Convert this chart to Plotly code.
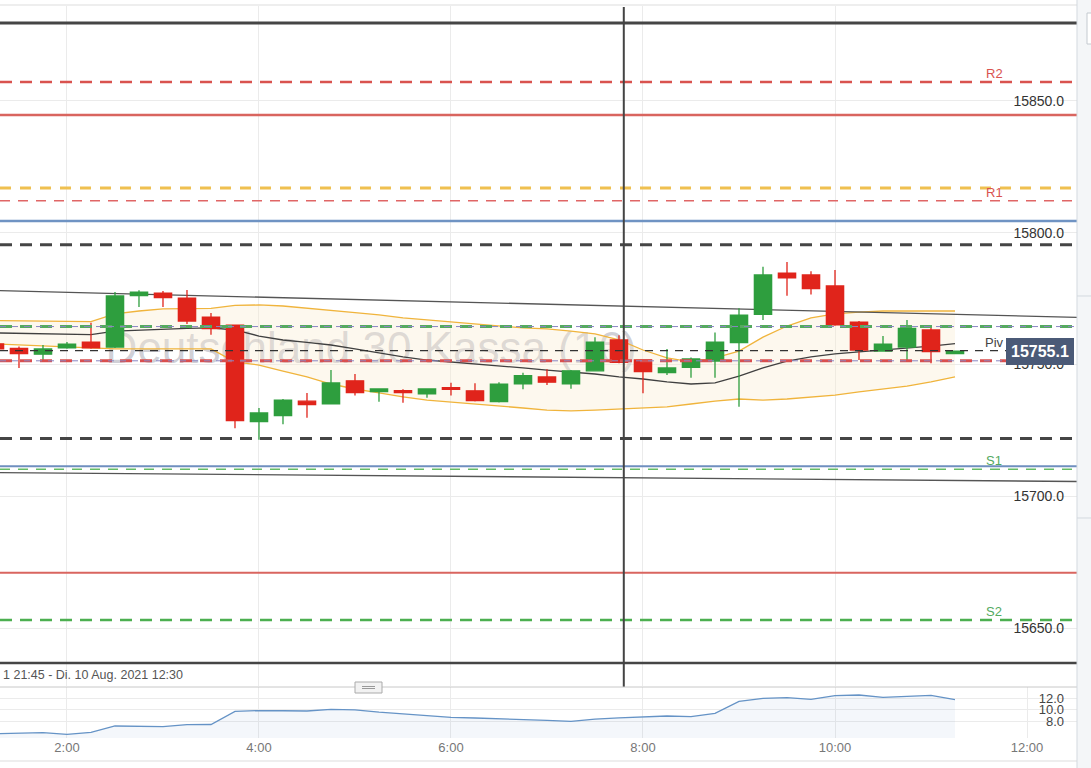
import plotly.graph_objects as go

# 15-minute candles, DAX cash, 10 Aug 2021
times = ['01:15', '01:30', '01:45', '02:00', '02:15', '02:30', '02:45', '03:00', '03:15', '03:30',
         '03:45', '04:00', '04:15', '04:30', '04:45', '05:00', '05:15', '05:30', '05:45', '06:00',
         '06:15', '06:30', '06:45', '07:00', '07:15', '07:30', '07:45', '08:00', '08:15', '08:30',
         '08:45', '09:00', '09:15', '09:30', '09:45', '10:00', '10:15', '10:30', '10:45', '11:00',
         '11:15']
opens = [15757.8, 15756.1, 15753.9, 15756.3, 15758.5, 15756.6, 15776.1, 15777.1, 15775.2, 15768.0,
         15764.9, 15728.3, 15730.6, 15736.1, 15735.1, 15743.8, 15739.7, 15740.1, 15738.9, 15741.2,
         15740.0, 15735.9, 15742.7, 15745.3, 15742.7, 15747.6, 15759.3, 15751.7, 15746.9, 15748.9,
         15751.3, 15758.3, 15769.0, 15784.7, 15784.0, 15779.8, 15766.1, 15755.1, 15756.6, 15763.1,
         15754.1]
highs = [15758.5, 15756.8, 15757.4, 15758.5, 15765.8, 15777.5, 15778.2, 15777.9, 15778.3, 15769.5,
         15765.2, 15733.5, 15736.9, 15739.2, 15747.9, 15746.4, 15741.0, 15740.6, 15741.0, 15743.1,
         15742.9, 15743.3, 15746.9, 15748.2, 15747.9, 15760.3, 15761.1, 15752.0, 15755.9, 15752.7,
         15762.1, 15771.3, 15787.1, 15788.9, 15785.4, 15785.9, 15766.5, 15760.8, 15766.9, 15764.1,
         15755.3]
lows = [15754.8, 15748.7, 15751.7, 15756.0, 15756.0, 15756.3, 15771.8, 15771.8, 15765.4, 15761.3,
        15725.8, 15721.4, 15727.3, 15729.8, 15734.8, 15738.2, 15735.9, 15735.5, 15737.4, 15738.2,
        15736.0, 15735.6, 15740.6, 15742.2, 15740.8, 15747.3, 15750.5, 15739.1, 15746.0, 15745.0,
        15745.0, 15734.0, 15766.9, 15776.1, 15776.6, 15764.7, 15751.7, 15754.8, 15751.7, 15750.5,
        15753.9]
closes = [15755.9, 15754.1, 15755.9, 15757.7, 15756.3, 15776.0, 15777.5, 15775.4, 15766.5, 15763.6,
          15728.7, 15731.6, 15736.5, 15734.8, 15743.0, 15739.3, 15740.7, 15739.3, 15740.7, 15740.6,
          15736.3, 15742.5, 15745.8, 15743.3, 15747.6, 15758.5, 15750.8, 15747.3, 15748.7, 15752.1,
          15758.5, 15768.7, 15784.0, 15782.9, 15778.8, 15765.0, 15755.5, 15757.7, 15763.7, 15754.9,
          15755.1]

# Bollinger bands
bb_upper = [15766.7, 15766.6, 15766.5, 15766.4, 15766.3, 15769.2, 15770.3, 15771.1, 15771.1, 15771.3,
            15772.4, 15772.6, 15772.2, 15771.4, 15770.7, 15769.7, 15768.8, 15767.7, 15766.9, 15766.1,
            15765.4, 15764.6, 15763.9, 15763.5, 15762.7, 15761.6, 15759.3, 15755.5, 15752.5, 15751.0,
            15752.5, 15755.1, 15760.4, 15764.6, 15767.7, 15769.2, 15769.9, 15770.3, 15770.3, 15770.3,
            15770.3]
bb_mid = [15762.0, 15761.8, 15761.6, 15761.4, 15761.3, 15762.7, 15763.1, 15763.5, 15763.7, 15763.9,
          15763.1, 15760.8, 15759.3, 15758.4, 15757.4, 15755.9, 15754.4, 15752.9, 15751.7, 15751.0,
          15750.2, 15749.4, 15748.7, 15747.9, 15747.2, 15746.4, 15745.3, 15744.5, 15743.4, 15742.6,
          15743.0, 15745.6, 15748.7, 15751.3, 15752.9, 15754.0, 15754.8, 15755.5, 15756.3, 15757.0,
          15757.9]
bb_lower = [15757.8, 15757.4, 15757.0, 15756.6, 15756.3, 15755.9, 15755.9, 15755.9, 15755.9, 15755.9,
            15751.0, 15749.8, 15747.5, 15745.3, 15742.6, 15740.7, 15739.2, 15737.7, 15736.5, 15735.8,
            15735.0, 15734.3, 15733.5, 15732.7, 15732.4, 15732.7, 15733.1, 15733.5, 15733.9, 15735.0,
            15736.1, 15736.9, 15736.5, 15736.9, 15737.7, 15738.4, 15739.6, 15740.7, 15741.8, 15743.4,
            15745.3]

# lower indicator panel
indicator = [5.85, 5.95, 6.03, 5.74, 6.09, 7.19, 7.15, 7.07, 7.42, 7.45,
             9.74, 9.86, 9.84, 9.80, 10.09, 10.0, 9.6, 9.33, 9.0, 8.7,
             8.58, 8.48, 8.33, 8.18, 8.0, 8.38, 8.6, 8.81, 8.93, 8.81,
             9.39, 11.48, 12.0, 12.12, 11.83, 12.46, 12.58, 12.17, 12.41, 12.52,
             11.77]

# horizontal levels (pivots, supports, resistances, drawn lines)
level_values = [15879.6, 15857.2, 15844.7, 15817.0, 15812.1, 15804.5, 15795.4, 15764.4,
                15755.3, 15751.4, 15721.9, 15711.4, 15710.2, 15671.0, 15653.0, 15636.7]
level_names = ['', 'R2', '', '', 'R1', '', '', '', 'Piv', '', '', '', 'S1', '', 'S2', '']

# two sloped trend lines
trend_times = ['2021-08-10 01:18:08', '2021-08-10 12:31:15']
trend_upper = [15778.0, 15767.9]
trend_lower = [15709.0, 15705.6]

last_price = 15755.1
cursor_time = '2021-08-10 07:48'

day = '2021-08-10 '
x = [day + t for t in times]

level_styles = [
    ('#454545', 3, 'solid'), ('#d9534f', 2.5, '12px,8px'), ('#d9655f', 2.5, 'solid'),
    ('#efc050', 3, '11px,9px'), ('#e06666', 1.5, '10px,8px'), ('#6f93c3', 2.5, 'solid'),
    ('#454545', 3, '12px,8px'), ('#55aa5f', 3, '12px,8px'), ('#333333', 1.2, '8px,7px'),
    ('#d94f4f', 3, '12px,8px'), ('#454545', 3, '12px,8px'), ('#6f8fbf', 2, 'solid'),
    ('#66bb66', 1.5, '10px,8px'), ('#d9655f', 2, 'solid'), ('#4caf50', 2.5, '12px,8px'),
    ('#454545', 2.5, 'solid'),
]
label_colors = {'R2': '#d9534f', 'R1': '#d9534f', 'Piv': '#444', 'S1': '#55aa5f', 'S2': '#55aa5f'}

W, H = 1091, 768
right = 1077 / W


def py(p):
    # pixel row -> paper y
    return (H - p) / H


fig = go.Figure()

# watermark behind everything
fig.add_trace(go.Scatter(
    x=[day + '05:10'], y=[15754.7], mode='text', text=['Deutschland 30 Kassa (1€)'],
    textfont=dict(size=44, color='rgba(140,140,158,0.42)', family='Liberation Sans, Arial'),
    xaxis='x', yaxis='y', hoverinfo='skip', showlegend=False))

# bollinger bands
fig.add_trace(go.Scatter(x=x, y=bb_upper, mode='lines', line=dict(color='#f0b43c', width=1.3),
                         xaxis='x', yaxis='y', showlegend=False))
fig.add_trace(go.Scatter(x=x, y=bb_lower, mode='lines', line=dict(color='#f0b43c', width=1.3),
                         fill='tonexty', fillcolor='rgba(250,236,205,0.35)',
                         xaxis='x', yaxis='y', showlegend=False))
fig.add_trace(go.Scatter(x=x, y=bb_mid, mode='lines', line=dict(color='#404040', width=1.3),
                         xaxis='x', yaxis='y', showlegend=False))

# trend lines
for tl in (trend_upper, trend_lower):
    fig.add_trace(go.Scatter(x=trend_times, y=tl, mode='lines', line=dict(color='#555', width=1.3),
                             xaxis='x', yaxis='y', showlegend=False))

# candles on overlaid axis so they sit above bands and watermark
fig.add_trace(go.Candlestick(
    x=x, open=opens, high=highs, low=lows, close=closes,
    increasing=dict(line=dict(color='#2e9e3e', width=1.3), fillcolor='#2e9e3e'),
    decreasing=dict(line=dict(color='#e0241b', width=1.3), fillcolor='#e0241b'),
    whiskerwidth=0, xaxis='x', yaxis='y3', showlegend=False))

# indicator panel
fig.add_trace(go.Scatter(x=x, y=indicator, mode='lines', line=dict(color='#6593c6', width=1.3),
                         fill='tozeroy', fillcolor='rgba(101,147,198,0.07)',
                         xaxis='x2', yaxis='y2', showlegend=False))

shapes = []
for v, (c, w, d) in zip(level_values, level_styles):
    shapes.append(dict(type='line', xref='x domain', x0=0, x1=1, yref='y', y0=v, y1=v,
                       line=dict(color=c, width=w, dash=d)))
# thin purple dashes riding on two of the levels
for v in (15764.4, 15751.4):
    shapes.append(dict(type='line', xref='x domain', x0=0, x1=1, yref='y', y0=v, y1=v,
                       line=dict(color='#8a86c4', width=1, dash='6px,6px')))
# cursor line
shapes.append(dict(type='line', xref='x', x0=cursor_time, x1=cursor_time, yref='paper',
                   y0=py(687), y1=py(7), line=dict(color='#444', width=2)))
# panel separators / frame
shapes += [
    dict(type='line', xref='paper', x0=0, x1=right, yref='paper', y0=py(687), y1=py(687),
         line=dict(color='#c8c8c8', width=1)),
    dict(type='line', xref='paper', x0=0, x1=right, yref='paper', y0=py(761), y1=py(761),
         line=dict(color='#dddddd', width=1)),
    dict(type='line', xref='paper', x0=0, x1=right, yref='paper', y0=py(5), y1=py(5),
         line=dict(color='#dddddd', width=1)),
    dict(type='rect', xref='paper', x0=right, x1=1.01, yref='paper', y0=-0.01, y1=1.01,
         fillcolor='#f4f6f8', line=dict(color='#d3d9df', width=1)),
    dict(type='rect', xref='paper', x0=1087 / W, x1=1.01, yref='paper', y0=py(44), y1=py(13),
         fillcolor='white', line=dict(color='#c4cad0', width=1)),
    dict(type='line', xref='paper', x0=right, x1=1, yref='paper', y0=py(296), y1=py(296),
         line=dict(color='#d3d9df', width=1)),
    dict(type='line', xref='paper', x0=right, x1=1, yref='paper', y0=py(518), y1=py(518),
         line=dict(color='#d3d9df', width=1)),
    dict(type='rect', xref='paper', x0=355 / W, x1=382 / W, yref='paper', y0=py(693), y1=py(682),
         fillcolor='#f2f2f2', line=dict(color='#aaaaaa', width=1)),
    dict(type='line', xref='paper', x0=362 / W, x1=375 / W, yref='paper', y0=py(686.5), y1=py(686.5),
         line=dict(color='#999', width=1)),
    dict(type='line', xref='paper', x0=362 / W, x1=375 / W, yref='paper', y0=py(688.5), y1=py(688.5),
         line=dict(color='#999', width=1)),
]

annotations = []
for v, name in zip(level_values, level_names):
    if name:
        annotations.append(dict(xref='paper', x=994 / W, yref='y', y=v, text=name, showarrow=False,
                                xanchor='center', yanchor='bottom', yshift=-1,
                                font=dict(size=13, color=label_colors[name])))
annotations.append(dict(xref='paper', x=1040 / W, yref='y', y=last_price, text='<b>%.1f</b>' % last_price,
                        showarrow=False, xanchor='center', bgcolor='#4b5a77', bordercolor='#4b5a77',
                        borderpad=4, font=dict(size=16, color='white')))
annotations.append(dict(xref='paper', x=0.001, yref='paper', y=py(675), xanchor='left',
                        yanchor='middle', text='1 21:45 - Di. 10 Aug. 2021 12:30', showarrow=False,
                        font=dict(size=12.5, color='#555')))

x_range = ['2021-08-10 01:18:08', '2021-08-10 12:31:15']
main_range = [15627.99, 15886.05]
grid = '#ebebeb'

fig.update_layout(
    width=W, height=H, margin=dict(l=0, r=0, t=0, b=0),
    paper_bgcolor='white', plot_bgcolor='white',
    font=dict(family='Liberation Sans, Arial', color='#333'),
    showlegend=False, shapes=shapes, annotations=annotations,
    boxgap=0.1, boxgroupgap=0.2,
    xaxis=dict(domain=[0, right], range=x_range, anchor='y', showticklabels=False,
               showgrid=True, gridcolor=grid, dtick=7200000, tick0='2021-08-10 00:00',
               zeroline=False, rangeslider=dict(visible=False)),
    xaxis2=dict(domain=[0, right], range=x_range, matches='x', anchor='y2',
                showgrid=True, gridcolor=grid, dtick=7200000, tick0='2021-08-10 00:00',
                tickformat='%-H:%M', tickfont=dict(size=13, color='#777'), ticks='',
                zeroline=False),
    yaxis=dict(domain=[py(686), py(6)], range=main_range, side='right', anchor='x',
               ticklabelposition='inside', dtick=50, tickformat='.1f',
               tickfont=dict(size=14, color='#333'), gridcolor=grid, zeroline=False,
               ticklabelstandoff=10),
    yaxis3=dict(range=main_range, overlaying='y', anchor='x', visible=False),
    yaxis2=dict(domain=[py(738), py(687)], range=[5.1, 13.97], side='right', anchor='x2',
                ticklabelposition='inside', tickvals=[8, 10, 12], ticktext=['8.0', '10.0', '12.0'],
                tickfont=dict(size=13, color='#444'), gridcolor=grid, zeroline=False,
                ticklabelstandoff=10),
)

# drop the page's default body margin so the figure fills the window
fig.write_html("out.html", config={'displayModeBar': False},
               post_script="document.body.style.margin='0px';")
